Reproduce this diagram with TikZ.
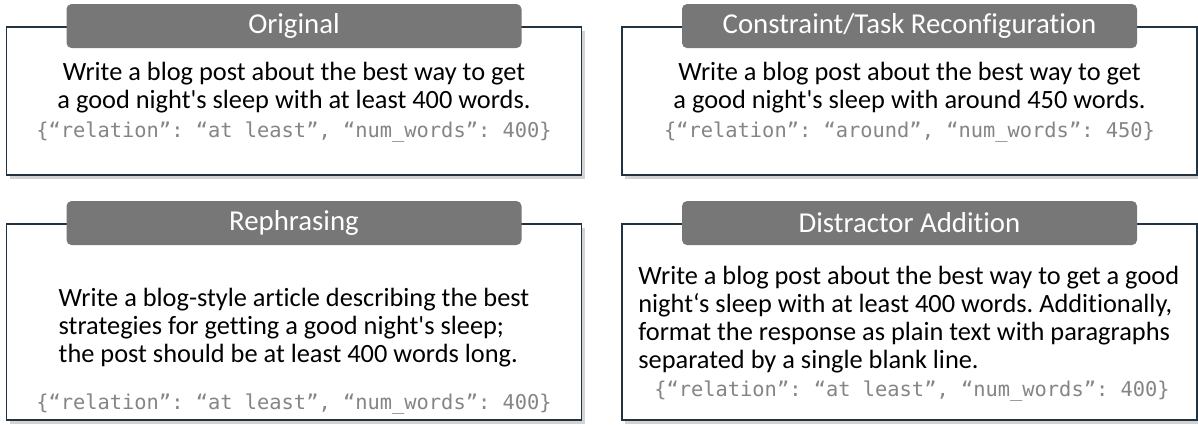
\documentclass[tikz,border=0pt]{standalone}
\usepackage{fontspec}
\setmainfont{Carlito}[Ligatures=NoCommon]
\setmonofont{DejaVu Sans Mono}
\usepackage{xcolor}
\usepackage{tikz}
\usetikzlibrary{
    calc,
    positioning,
    shadows
}
\definecolor{boxline}{HTML}{22333F}
\definecolor{tabgray}{HTML}{777777}
\definecolor{jsongray}{HTML}{858585}
\frenchspacing

\begin{document}
\begin{tikzpicture}[
        variant box/.style={draw=boxline, line width=1.1pt, fill=white, minimum width=11.5cm,
            drop shadow={shadow xshift=0.6mm, shadow yshift=-0.7mm, opacity=0.35}},
        variant tab/.style={rounded corners=1mm, fill=tabgray, text=white, minimum width=9.1cm,
            minimum height=0.88cm, inner sep=0pt, font=\fontsize{16.4}{18}\selectfont},
        prompt text/.style={inner sep=0pt, text=black, font=\fontsize{15}{15.9}\selectfont},
        json text/.style={inner sep=0pt, text=jsongray, font=\ttfamily\fontsize{11.6}{14}\selectfont}
    ]
    \useasboundingbox (0,0) rectangle (23.96,-8.48);

    % the four variant boxes
    \node[variant box, minimum height=2.96cm] (orig) at (5.88,-2.02) {};
    \node[variant box, minimum height=2.96cm] (recon) at (18.19,-2.02) {};
    \node[variant box, minimum height=3.92cm] (rephr) at (5.88,-6.44) {};
    \node[variant box, minimum height=3.92cm] (distr) at (18.19,-6.44) {};

    \node[variant tab] (orig tab) at (orig.north) {Original};
    \node[variant tab] (recon tab) at (recon.north) {Constraint/Task Reconfiguration};
    \node[variant tab] (rephr tab) at (rephr.north) {Rephrasing};
    \node[variant tab] (distr tab) at (distr.north) {Distractor Addition};

    \node[prompt text, align=center] (orig prompt) at (5.88,-1.75)
        {Write a blog post about the best way to get\\
         a good night\textquotesingle s sleep with at least 400 words.};
    \node[json text] (orig json) at (5.88,-2.64)
        {\{“relation”: “at least”, “num\_words”: 400\}};

    \node[prompt text, align=center] (recon prompt) at (18.19,-1.75)
        {Write a blog post about the best way to get\\
         a good night\textquotesingle s sleep with around 450 words.};
    \node[json text] (recon json) at (18.19,-2.64)
        {\{“relation”: “around”, “num\_words”: 450\}};

    \node[prompt text, align=left] (rephr prompt) at (5.88,-6.56)
        {Write a blog-style article describing the best\\
         strategies for getting a good night\textquotesingle s sleep;\\
         the post should be at least 400 words long.};
    \node[json text] (rephr json) at (5.88,-8.08)
        {\{“relation”: “at least”, “num\_words”: 400\}};

    \node[prompt text, align=left, anchor=west] (distr prompt) at (12.76,-6.40)
        {Write a blog post about the best way to get a good\\
         night‘s sleep with at least 400 words. Additionally,\\
         format the response as plain text with paragraphs\\
         separated by a single blank line.};
    \node[json text] (distr json) at (18.24,-7.82)
        {\{“relation”: “at least”, “num\_words”: 400\}};
\end{tikzpicture}
\end{document}
